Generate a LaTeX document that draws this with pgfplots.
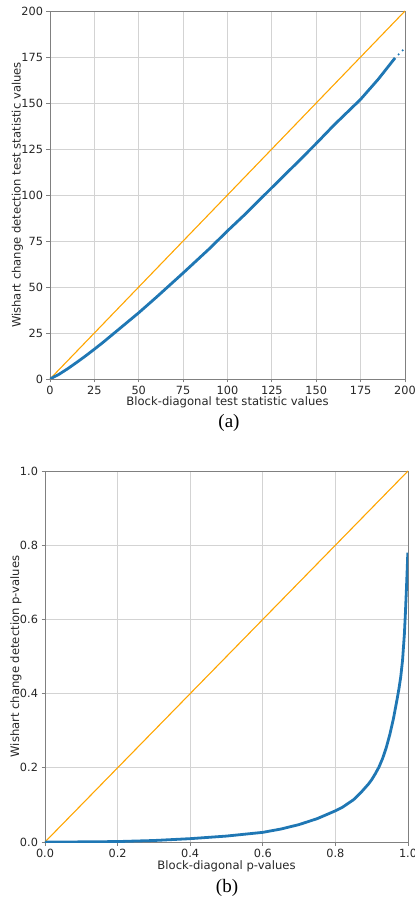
\documentclass[border=0pt]{standalone}
\usepackage{fontspec}
\setmainfont{DejaVu Sans}
\newfontfamily\capfont{Liberation Serif}
\usepackage{pgfplots}
\pgfplotsset{compat=1.18}

\definecolor{mplblue}{HTML}{1F77B4}
\definecolor{mplorange}{HTML}{FFA500}
\definecolor{spine}{HTML}{808080}
\definecolor{gridc}{HTML}{D3D3D3}

\pgfplotsset{panel/.style={
  scale only axis, anchor=south west,
  axis line style={spine, line width=0.9pt},
  tick pos=left, tick align=outside, major tick length=3.5pt,
  tick style={spine, line width=0.8pt},
  grid=major, major grid style={gridc, line width=0.8pt},
  tick label style={font=\fontsize{11.3}{13}\selectfont, text=black!85},
  label style={font=\fontsize{11.6}{13}\selectfont, text=black!85},
  /pgf/number format/assume math mode=true,
}}

\begin{document}
\begin{tikzpicture}
\path[use as bounding box] (0,0) rectangle (415pt,903pt);

% (a) test statistics
\begin{axis}[panel, at={(50pt,524pt)}, width=355pt, height=368pt,
  xmin=0, xmax=200, ymin=0, ymax=200,
  xtick={0,25,...,200}, ytick={0,25,...,200},
  xlabel={Block-diagonal test statistic values},
  ylabel={Wishart change detection test statistic values},
  xlabel style={at={(axis description cs:0.5,0)}, anchor=center, yshift=-23pt},
  ylabel style={at={(axis description cs:-0.092,0.5)}, anchor=center}]
\addplot[mplorange, line width=1.1pt] coordinates {(0,0) (200,200)};
\addplot[mplblue, line width=2.8pt, line join=round] coordinates {
  (0,0) (5,2.5) (10,5.6) (15,9) (20,12.5) (25,16.2) (30,20) (40,28)
  (50,36) (60,44.5) (75,57.6) (90,71) (100,80.5) (110,89.6) (125,104)
  (140,118.3) (150,128) (160,138) (175,152) (185,163) (194.4,174.5)};
\addplot[mplblue, only marks, mark=*, mark size=0.8pt] coordinates {
  (196.4,176.4) (198.7,178.6)};
\end{axis}

% (b) p-values
\begin{axis}[panel, at={(45pt,61pt)}, width=363pt, height=371pt,
  xmin=0, xmax=1, ymin=0, ymax=1,
  xtick={0,0.2,...,1}, ytick={0,0.2,...,1},
  xticklabel style={/pgf/number format/.cd, fixed, fixed zerofill, precision=1},
  yticklabel style={/pgf/number format/.cd, fixed, fixed zerofill, precision=1},
  xlabel={Block-diagonal p-values},
  ylabel={Wishart change detection p-values},
  xlabel style={at={(axis description cs:0.5,0)}, anchor=center, yshift=-24pt},
  ylabel style={at={(axis description cs:-0.08,0.5)}, anchor=center}]
\addplot[mplorange, line width=1.1pt] coordinates {(0,0) (1,1)};
\addplot[mplblue, line width=2.8pt, line join=round] coordinates {
  (0,0) (0.1,0.0003) (0.2,0.0012) (0.3,0.004) (0.4,0.009) (0.5,0.016)
  (0.6,0.026) (0.65,0.035) (0.7,0.047) (0.75,0.063) (0.8,0.084)
  (0.82,0.094) (0.85,0.114) (0.87,0.133) (0.89,0.155) (0.9,0.168)
  (0.91,0.184) (0.92,0.202) (0.93,0.225) (0.94,0.254) (0.95,0.29)
  (0.96,0.333) (0.97,0.385) (0.975,0.413) (0.98,0.445) (0.985,0.49)
  (0.99,0.56) (0.993,0.62) (0.996,0.69) (0.998,0.74) (0.9995,0.78)};
\end{axis}

\node[font=\capfont\fontsize{19}{22}\selectfont] at (229pt,480pt) {(a)};
\node[font=\capfont\fontsize{19}{22}\selectfont] at (227pt,15pt) {(b)};
\end{tikzpicture}
\end{document}
